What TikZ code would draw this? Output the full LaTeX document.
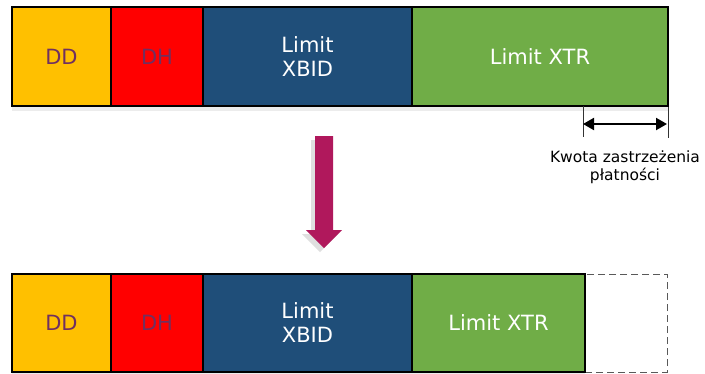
\documentclass[tikz,border=0pt]{standalone}
\usepackage{fontspec}
\setmainfont{DejaVu Sans}
\usetikzlibrary{arrows.meta,shadows}

\definecolor{ddyellow}{RGB}{255,192,0}
\definecolor{dhred}{RGB}{255,0,0}
\definecolor{xbidblue}{RGB}{31,78,121}
\definecolor{xtrgreen}{RGB}{112,173,71}
\definecolor{labelpurple}{RGB}{112,48,96}
\definecolor{arrowmag}{RGB}{176,24,92}

\tikzset{
    seg/.style={draw=black, line width=1.5pt, inner sep=0pt, align=center,
        minimum height=99pt, font=\fontsize{21}{24}\selectfont,
        drop shadow={opacity=.15, shadow xshift=0pt, shadow yshift=-5pt}},
    darktext/.style={text=labelpurple},
    lighttext/.style={text=white},
}

\begin{document}
\begin{tikzpicture}[x=1pt,y=-1pt]
    \useasboundingbox (0,0) rectangle (705,373);

    % before
    \node [seg, darktext, fill=ddyellow, minimum width=99pt]   (dd1)   at (61.5,56.5)  {DD};
    \node [seg, darktext, fill=dhred,    minimum width=92pt]   (dh1)   at (157,56.5)   {DH};
    \node [seg, lighttext, fill=xbidblue, minimum width=209pt] (xbid1) at (307.5,56.5) {Limit\\XBID};
    \node [seg, lighttext, fill=xtrgreen, minimum width=256pt] (xtr1)  at (540,56.5)   {Limit XTR};

    \coordinate (tl) at (583,106);
    \draw [black!80, line width=.6pt] (tl) -- ++(0,31);
    \draw [black!80, line width=.6pt] (xtr1.south east) -- ++(0,31);
    \coordinate (al) at (583,124);
    \coordinate (ar) at (667,124);
    \draw [{Triangle[length=11pt,width=12pt]}-{Triangle[length=11pt,width=12pt]}, line width=2pt] (al) -- (ar);
    \node [font=\fontsize{15.5}{18}\selectfont, align=center] (kwota) at (625,167) {Kwota zastrzeżenia\\płatności};

    % arrow
    \fill [arrowmag, drop shadow={opacity=.25, shadow xshift=-4pt, shadow yshift=-4pt}]
        (315,136) -- (333,136) -- (333,230) -- (342,230) -- (324,248)
        -- (306,230) -- (315,230) -- cycle;

    % after
    \node [seg, darktext, fill=ddyellow, minimum width=99pt, minimum height=98pt]   (dd2)   at (61.5,323)  {DD};
    \node [seg, darktext, fill=dhred,    minimum width=92pt, minimum height=98pt]   (dh2)   at (157,323)   {DH};
    \node [seg, lighttext, fill=xbidblue, minimum width=209pt, minimum height=98pt] (xbid2) at (307.5,323) {Limit\\XBID};
    \node [draw=black!65, line width=1pt, dash pattern=on 7pt off 4pt, minimum width=82pt, minimum height=98pt, inner sep=0pt] (gap2) at (626,323) {};
    \node [seg, lighttext, fill=xtrgreen, minimum width=173pt, minimum height=98pt] (xtr2)  at (498.5,323) {Limit XTR};
\end{tikzpicture}
\end{document}
